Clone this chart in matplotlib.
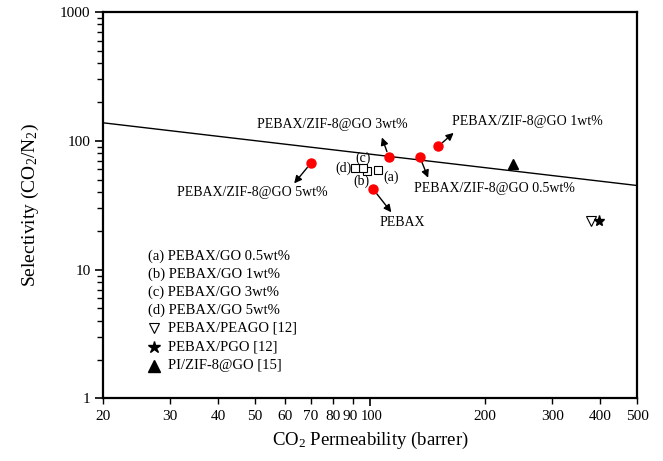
import matplotlib
matplotlib.use('Agg')
import matplotlib.pyplot as plt
import matplotlib.transforms as mtransforms

plt.rcParams['font.family'] = ['Liberation Serif', 'DejaVu Serif']
plt.rcParams['mathtext.fontset'] = 'custom'
plt.rcParams['mathtext.rm'] = 'Liberation Serif'
plt.rcParams['mathtext.it'] = 'Liberation Serif:italic'

# this work: PEBAX/ZIF-8@GO membranes and neat PEBAX
zif_labels = ['PEBAX/ZIF-8@GO 5wt%', 'PEBAX/ZIF-8@GO 3wt%', 'PEBAX/ZIF-8@GO 0.5wt%',
              'PEBAX/ZIF-8@GO 1wt%', 'PEBAX']
zif_perm = [70, 112, 135, 151, 102]
zif_sel = [67, 75, 75, 91, 42]

# PEBAX/GO (a)-(d)
go_letters = ['(a)', '(b)', '(c)', '(d)']
go_perm = [105, 98.4, 95.9, 91.3]
go_sel = [59.3, 58.2, 61.8, 61.8]

# literature
peago_perm = [380]
peago_sel = [24]
pgo_perm = [398]
pgo_sel = [24]
pi_perm = [237]
pi_sel = [66]

# Robeson upper bound
bound_x = [20, 500]
bound_y = [138, 45]

legend_labels = ['(a) PEBAX/GO 0.5wt%', '(b) PEBAX/GO 1wt%', '(c) PEBAX/GO 3wt%',
                 '(d) PEBAX/GO 5wt%', 'PEBAX/PEAGO [12]', 'PEBAX/PGO [12]', 'PI/ZIF-8@GO [15]']

fig = plt.figure(figsize=(6.63, 4.61), dpi=100)
ax = fig.add_axes([0.1554, 0.1356, 0.8054, 0.8384])
ax.set_xscale('log')
ax.set_yscale('log')
ax.set_xlim(20, 500)
ax.set_ylim(1, 1000)

ax.plot(bound_x, bound_y, '-', color='black', lw=1)
ax.plot(go_perm, go_sel, 's', mfc='white', mec='black', ms=5.5, mew=0.8, ls='none')
ax.plot(zif_perm, zif_sel, 'o', color='red', ms=6.5, ls='none', zorder=5)
ax.plot(peago_perm, peago_sel, 'v', mfc='white', mec='black', ms=7, mew=0.8, ls='none')
ax.plot(pgo_perm, pgo_sel, '*', color='black', ms=8, ls='none')
ax.plot(pi_perm, pi_sel, '^', color='black', ms=7.5, ls='none')

# arrows: head end offset (points) from each red point
arrow_off = [(-12, -14.5), (-5, 14), (6, -15), (11, 9.5), (13, -16.5)]
for px, py, (dx, dy) in zip(zif_perm, zif_sel, arrow_off):
    ax.annotate('', xy=(px, py), xytext=(dx, dy), textcoords='offset points',
                arrowprops=dict(arrowstyle='<|-', color='black', lw=1,
                                shrinkA=0, shrinkB=4, mutation_scale=11))
text_pos = [(-42, -21, 'center'), (-41, 23, 'center'), (-4.5, -22.5, 'left'),
            (10, 18, 'left'), (4.5, -24, 'left')]
for lab, px, py, (dx, dy, ha) in zip(zif_labels, zif_perm, zif_sel, text_pos):
    ax.annotate(lab, xy=(px, py), xytext=(dx, dy), textcoords='offset points',
                ha=ha, va='center', fontsize=10)

letter_off = [(3.5, -5, 'left'), (-4, -7.5, 'center'), (0, 7, 'center'), (-2.5, -0.5, 'right')]
for lab, px, py, (dx, dy, ha) in zip(go_letters, go_perm, go_sel, letter_off):
    ax.annotate(lab, xy=(px, py), xytext=(dx, dy), textcoords='offset points',
                ha=ha, va='center', fontsize=10)

# hand-made legend
ys = [0.369, 0.322, 0.276, 0.229, 0.182, 0.134, 0.085]
for i, (lab, yy) in enumerate(zip(legend_labels, ys)):
    xx = 0.084 if i < 4 else 0.122
    ax.text(xx, yy, lab, transform=ax.transAxes, fontsize=10.5, va='center')
ax.plot([0.096], [ys[4]], 'v', mfc='white', mec='black', ms=7, mew=0.8, transform=ax.transAxes)
ax.plot([0.096], [ys[5]], '*', color='black', ms=9, transform=ax.transAxes)
ax.plot([0.096], [ys[6]], '^', color='black', ms=8, transform=ax.transAxes)

# axes styling
for s in ax.spines.values():
    s.set_linewidth(1.6)
ax.set_xticks([100], ['100'])
ax.set_xticks([20, 30, 40, 50, 60, 70, 80, 90, 200, 300, 400, 500],
              ['20', '30', '40', '50', '60', '70', '80', '90', '200', '300', '400', '500'],
              minor=True)
ax.set_yticks([1, 10, 100, 1000], ['1', '10', '100', '1000'])
ax.tick_params(which='major', direction='out', length=6, width=1.2, labelsize=11)
ax.tick_params(which='minor', direction='out', length=4, width=1, labelsize=11)
ax.tick_params(axis='x', which='major', pad=2)
ax.tick_params(axis='x', which='minor', pad=4)
ax.tick_params(axis='y', which='major', pad=3)
ax.tick_params(axis='x', labelsize=10.5)

# nudge the crowded "90" and "100" labels apart a little
for lbl in ax.get_xticklabels(minor=True):
    if lbl.get_text() == '90':
        lbl.set_transform(lbl.get_transform() + mtransforms.ScaledTranslation(-1.5 / 72, 0, fig.dpi_scale_trans))
for lbl in ax.get_xticklabels():
    lbl.set_transform(lbl.get_transform() + mtransforms.ScaledTranslation(1 / 72, 0, fig.dpi_scale_trans))

ax.set_xlabel(r'CO$_2$ Permeability (barrer)', fontsize=13.5, labelpad=5)
ax.set_ylabel(r'Selectivity (CO$_2$/N$_2$)', fontsize=14, labelpad=14)

fig.savefig('out.png', dpi=100)
